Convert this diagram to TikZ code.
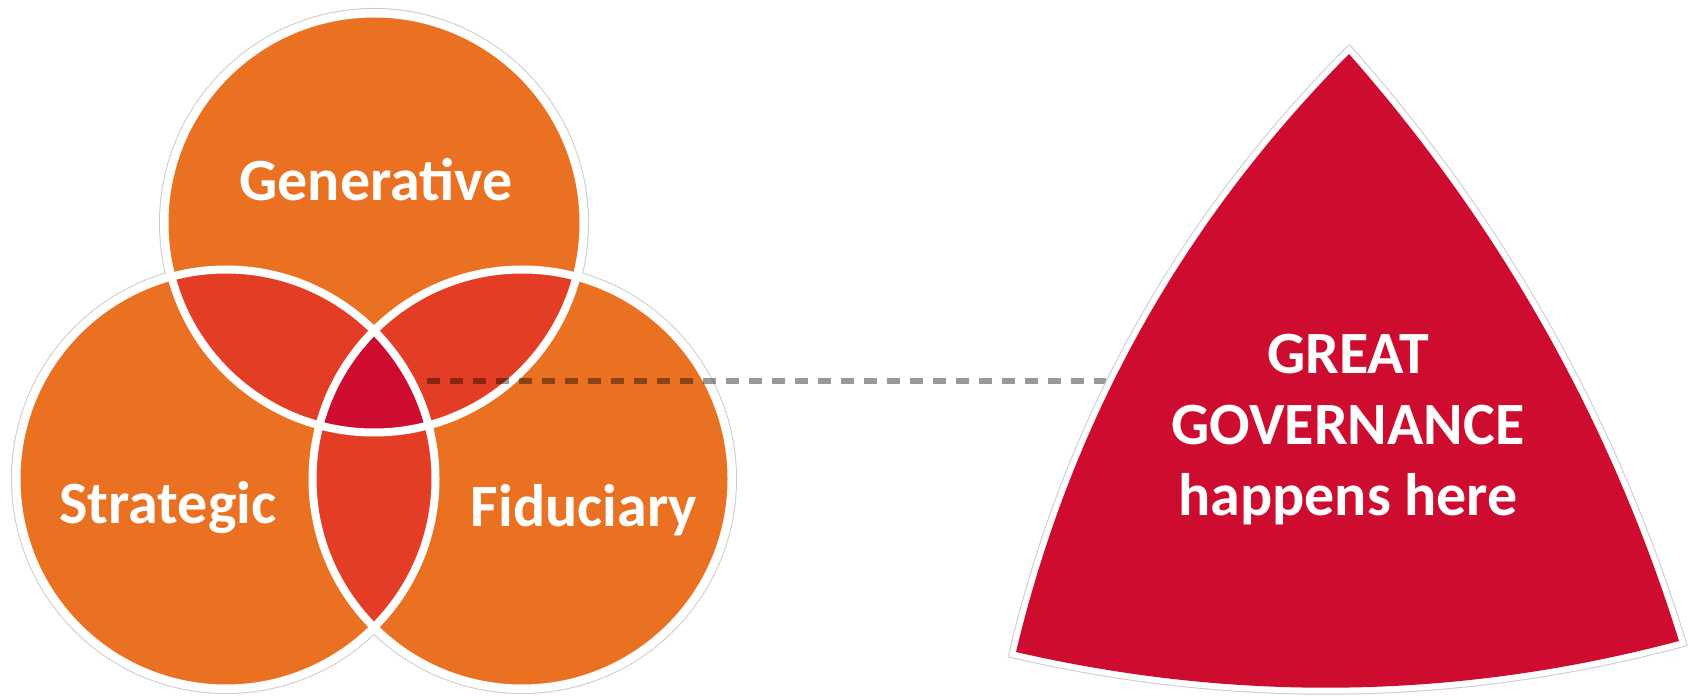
\documentclass[tikz,border=0pt]{standalone}
\usepackage{fontspec}
\setmainfont{Carlito}
\definecolor{venorange}{HTML}{EA7022}
\definecolor{venpair}{HTML}{E43D26}
\definecolor{vencore}{HTML}{CE0C30}
\begin{document}
\begin{tikzpicture}[x=1pt,y=-1pt,
  lbl/.style={text=white,font=\fontsize{60}{71}\selectfont\bfseries,inner sep=0pt},
  ring/.style={draw=white,line width=8pt},
  halo/.style={fill=gray!40},
  linkline/.style={draw=black,draw opacity=0.4,line width=5.5pt,dash pattern=on 12.5pt off 10.5pt}]
\useasboundingbox (0,0) rectangle (1696,700);
\fill[white] (0,0) rectangle (1696,700);
\coordinate (G) at (374,223);
\coordinate (S) at (226,479);
\coordinate (F) at (522,479);
% outer halo and white band
\foreach \c in {G,S,F} \fill[halo] (\c) circle[radius=215];
\foreach \c in {G,S,F} \fill[white] (\c) circle[radius=214];
% base discs
\foreach \c in {G,S,F} \fill[venorange] (\c) circle[radius=209.5];
% pairwise overlaps
\begin{scope}
  \clip (G) circle[radius=209.5];
  \fill[venpair] (S) circle[radius=209.5];
  \fill[venpair] (F) circle[radius=209.5];
\end{scope}
\begin{scope}
  \clip (S) circle[radius=209.5];
  \fill[venpair] (F) circle[radius=209.5];
\end{scope}
% triple overlap
\begin{scope}
  \clip (G) circle[radius=209.5];
  \clip (S) circle[radius=209.5];
  \fill[vencore] (F) circle[radius=209.5];
\end{scope}
\foreach \c in {G,S,F} \draw[ring] (\c) circle[radius=209.5];
% labels
\node[lbl,anchor=base] (gen) at (376,201) {Generative};
\node[lbl,anchor=base] (strat) at (168,523) {Strategic};
\node[lbl,anchor=base] (fid) at (584,526) {Fiduciary};
% dashed connector
\coordinate (dashstart) at (427,381);
\coordinate (dashend) at (1106,381);
\draw[linkline] (dashstart) -- (dashend);
% curved triangle
\def\tripath{(1349,54) .. controls (1500.8,226.2) and (1610.8,421.8) .. (1679,641)
  .. controls (1458.9,699.4) and (1237.9,703) .. (1016,652)
  .. controls (1071.1,421.6) and (1182.1,222.2) .. cycle}
\draw[gray!40,line width=14pt,line join=miter] \tripath;
\draw[white,line width=12pt,line join=miter] \tripath;
\fill[vencore] \tripath;
\node[lbl,align=center] (gg) at (1348,430) {GREAT\\GOVERNANCE\\happens here};
\end{tikzpicture}
\end{document}
